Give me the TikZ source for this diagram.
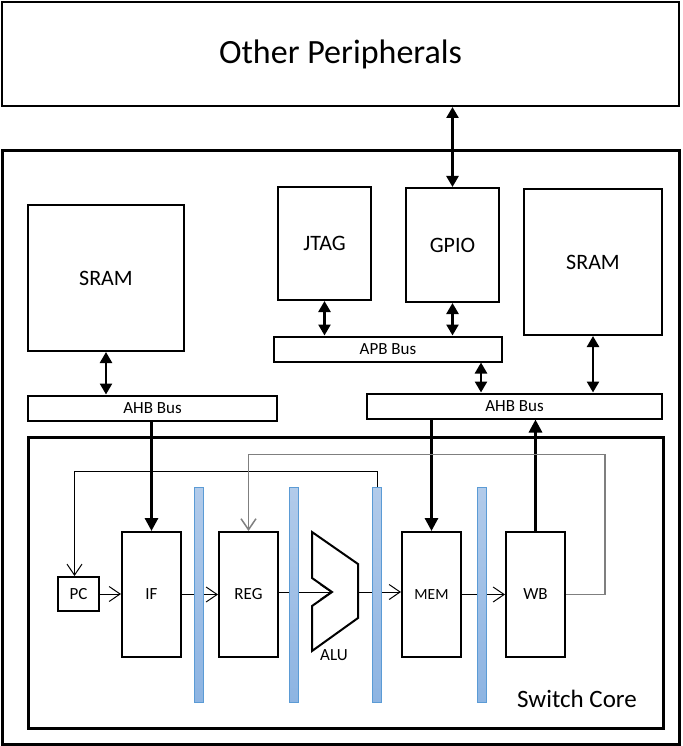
\documentclass[tikz,border=0pt]{standalone}
\usepackage{fontspec}
\setmainfont{Carlito}
\usetikzlibrary{shapes,arrows,arrows.meta,positioning}
\definecolor{latchtop}{RGB}{178,203,234}
\definecolor{latchbottom}{RGB}{141,180,226}
\definecolor{latchedge}{RGB}{91,155,213}
\definecolor{backgray}{RGB}{127,127,127}
\tikzstyle{block} = [rectangle, draw, line width=2pt, inner sep=0pt,
    font=\fontsize{22}{26}\selectfont]
\tikzstyle{frame} = [rectangle, draw, line width=3pt, inner sep=0pt]
\tikzstyle{bus} = [rectangle, draw, line width=2pt, inner sep=0pt,
    minimum height=25pt, font=\fontsize{17}{20}\selectfont]
\tikzstyle{stage} = [rectangle, draw, line width=2pt, inner sep=0pt,
    minimum width=59pt, minimum height=125pt, font=\fontsize{17}{20}\selectfont]
\tikzstyle{latch} = [rectangle, draw=latchedge, line width=1pt, top color=latchtop,
    bottom color=latchbottom, minimum width=9pt, minimum height=215pt, inner sep=0pt]
\tikzstyle{line} = [draw, line width=2.5pt,
    {Triangle[length=11pt,width=12pt]}-{Triangle[length=11pt,width=12pt]}]
\tikzstyle{busline} = [draw, line width=3pt, -{Triangle[length=13pt,width=13pt]}]
\tikzstyle{wire} = [draw, line width=1pt, -{Straight Barb[length=11pt,width=15pt]}]
\tikzstyle{wireback} = [wire, draw=backgray, line width=1.5pt]

\begin{document}
\begin{tikzpicture}[x=1pt, y=-1pt, auto]
	\useasboundingbox (0,0) rectangle (682,746);

	\node [block, minimum width=677pt, minimum height=104pt,
		font=\fontsize{34}{40}\selectfont] (other) at (340.5,54) {Other Peripherals};
	\node [frame, minimum width=677pt, minimum height=593pt] (soc) at (340.5,447.5) {};

	\node [block, minimum width=156pt, minimum height=146pt] (sramL) at (106,278) {SRAM};
	\node [block, minimum width=93pt, minimum height=113pt] (jtag) at (324.5,243.5) {JTAG};
	\node [block, minimum width=93pt, minimum height=114pt] (gpio) at (452.5,245) {GPIO};
	\node [block, minimum width=138pt, minimum height=146pt] (sramR) at (593,262) {SRAM};

	\node [bus, minimum width=249pt] (ahbL) at (152.5,408) {AHB Bus};
	\node [bus, minimum width=228pt] (apb) at (388,349) {APB Bus};
	\node [bus, minimum width=295pt] (ahbR) at (514.5,406) {AHB Bus};

	\path [line] (gpio.north) -- (gpio.north |- other.south);
	\path [line] (jtag.south) -- (jtag.south |- apb.north);
	\path [line] (gpio.south) -- (gpio.south |- apb.north);
	\path [line] ([xshift=-22pt]apb.south east) -- ([xshift=-22pt]apb.south east |- ahbR.north);
	\path [line] (sramR.south) -- (sramR.south |- ahbR.north);
	\path [line] (sramL.south) -- (sramL.south |- ahbL.north);

	\node [frame, minimum width=635pt, minimum height=291pt] (core) at (345.5,582.5) {};

	\node [block, minimum width=41pt, minimum height=34pt,
		font=\fontsize{17}{20}\selectfont] (pc) at (78.5,594) {PC};
	\node [stage] (if) at (151.5,594.5) {IF};
	\node [stage] (reg) at (248.5,594.5) {REG};
	\node [stage, font=\fontsize{15.5}{18}\selectfont] (mem) at (431.5,594.5) {MEM};
	\node [stage] (wb) at (535.5,594.5) {WB};

	\draw [line width=2pt] (312,532) -- (358,564) -- (358,618) -- (312,651)
		-- (312,606) -- (332,592) -- (312,578) -- cycle;
	\coordinate (aluin) at (332,592);
	\coordinate (aluout) at (358,592);
	\node [font=\fontsize{17}{20}\selectfont] (alu) at (334,655) {ALU};

	\node [font=\fontsize{25}{30}\selectfont] (corename) at (577,699) {Switch Core};

	\path [busline] (ahbL.south -| if.north) -- (if.north);
	\path [busline] (ahbR.south -| mem.north) -- (mem.north);
	\path [busline] (wb.north) -- (wb.north |- ahbR.south);

	\path [wire] (pc.east) -- (pc.east -| if.west);
	\path [wire] (if.east) -- (reg.west);
	\path [wire] (reg.east |- aluin) -- (aluin);
	\path [wire] (aluout) -- (aluout -| mem.west);
	\path [wire] (mem.east) -- (wb.west);

	\node [latch] (latch1) at (198.5,594.5) {};
	\node [latch] (latch2) at (293.5,594.5) {};
	\node [latch] (latch3) at (377,594.5) {};
	\node [latch] (latch4) at (481.5,594.5) {};

	\path [wire] (latch3.north) -- ++(0,-15) -| ([xshift=-4pt]pc.north);
	\path [wireback] (wb.east) -| ++(39,-140) -| (reg.north);
\end{tikzpicture}
\end{document}
